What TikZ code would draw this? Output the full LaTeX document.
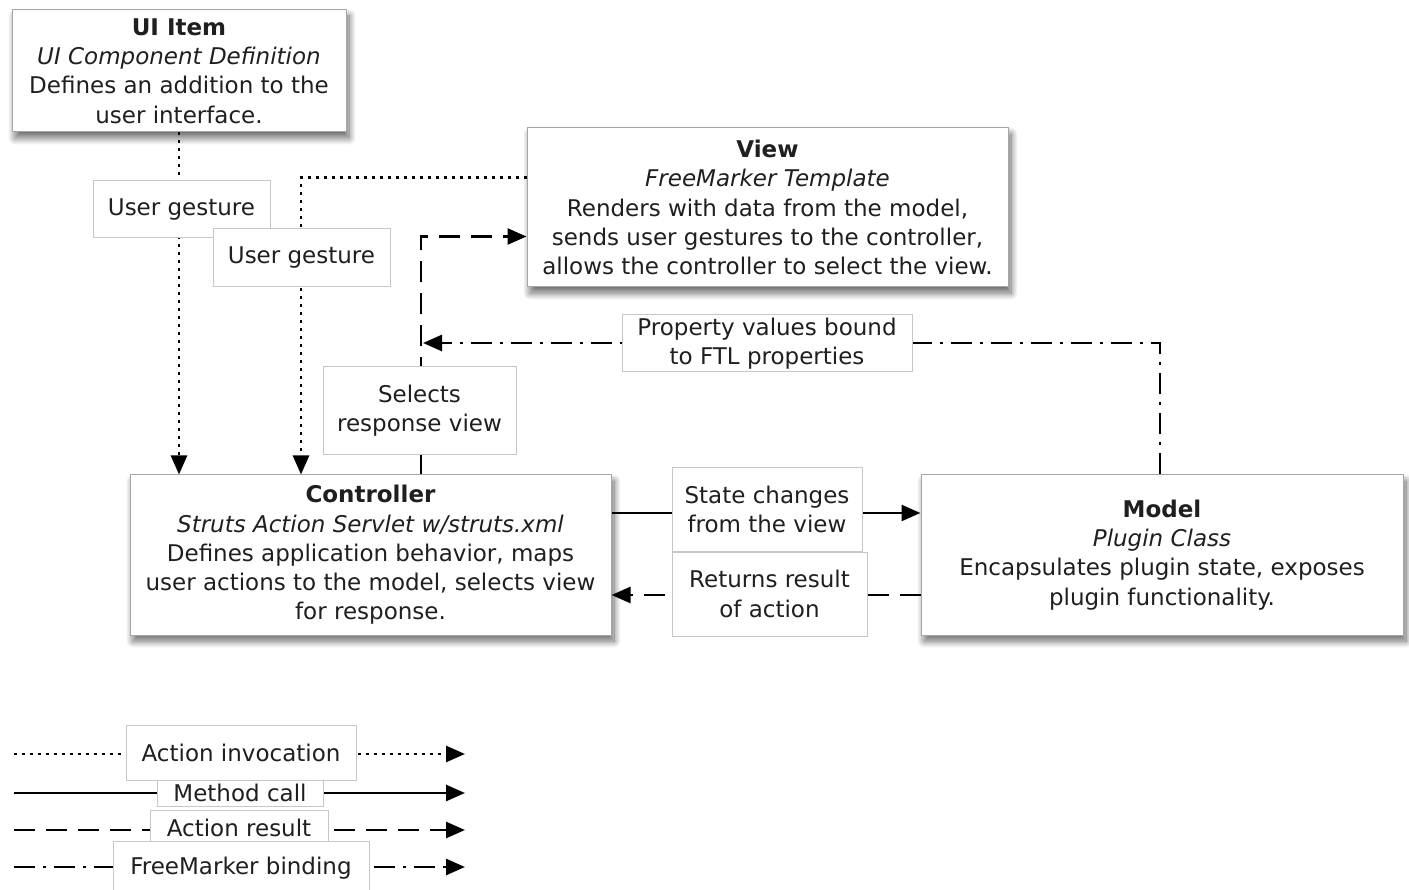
\documentclass[tikz,border=0pt]{standalone}
\usepackage{fontspec}
\setmainfont{DejaVu Sans}
\usetikzlibrary{arrows.meta,shadows.blur}
\begin{document}
\begin{tikzpicture}[x=1pt,y=-1pt,
  every node/.style={font=\fontsize{23}{29.3}\selectfont, text=black!88},
  mainbox/.style={draw=black!35, line width=1pt, fill=white, align=center, inner sep=0pt,
    blur shadow={shadow xshift=3pt, shadow yshift=-6pt, shadow blur radius=7pt, shadow blur steps=14, shadow opacity=60}},
  lbl/.style={draw=black!22, line width=1pt, fill=white, align=center, inner sep=0pt},
  conn/.style={line width=2.6pt, black},
  tip/.style={-{Triangle[length=19pt,width=16pt]}},
  act/.style={conn, dash pattern=on 3pt off 5pt},
  meth/.style={conn},
  res/.style={conn, dash pattern=on 21pt off 11pt},
  bind/.style={conn, dash pattern=on 21pt off 8pt on 3pt off 8pt},
]
\useasboundingbox (0,0) rectangle (1409,890);

% main boxes
\node[mainbox, minimum width=334pt, minimum height=122pt] (ui) at (179,71)
  {\textbf{UI Item}\\\textit{UI Component Definition}\\Defines an addition to the\\user interface.};
\node[mainbox, minimum width=481pt, minimum height=159pt] (view) at (767.5,207.5)
  {\textbf{View}\\\textit{FreeMarker Template}\\Renders with data from the model,\\sends user gestures to the controller,\\allows the controller to select the view.};
\node[mainbox, minimum width=481pt, minimum height=160pt] (ctrl) at (370.5,555)
  {\textbf{Controller}\\\textit{Struts Action Servlet w/struts.xml}\\Defines application behavior, maps\\user actions to the model, selects view\\for response.};
\node[mainbox, minimum width=482pt, minimum height=160pt] (model) at (1162,555)
  {\textbf{Model}\\\textit{Plugin Class}\\Encapsulates plugin state, exposes\\plugin functionality.};

% connectors
\coordinate (bindend) at (423,343);
\draw[act,tip] (ui.south) -- (ui.south |- ctrl.north);
\draw[act,tip] ([yshift=30pt]view.west) -| ([xshift=-69.5pt]ctrl.north);
\draw[res,tip] ([xshift=50.5pt]ctrl.north) |- ([yshift=-29pt]view.west);
\draw[bind,tip] ([xshift=-2pt]model.north) |- (bindend);
\draw[meth,tip] ([yshift=42pt]ctrl.east) -- ([yshift=42pt]model.west);
\draw[res,tip] ([yshift=-40pt]model.west) -- ([yshift=-40pt]ctrl.east);

% connector labels
\node[lbl, minimum width=177pt, minimum height=57pt] (ug1) at (181.5,209.5) {User gesture};
\node[lbl, minimum width=177pt, minimum height=58pt] (ug2) at (301.5,258) {User gesture};
\node[lbl, minimum width=193pt, minimum height=88pt] (sel) at (419.5,411) {Selects\\response view};
\node[lbl, minimum width=290pt, minimum height=57pt] (prop) at (767,343.5) {Property values bound\\to FTL properties};
\node[lbl, minimum width=190pt, minimum height=83pt] (state) at (767,509.5) {State changes\\from the view};
\node[lbl, minimum width=195pt, minimum height=84pt] (ret) at (769.5,594) {Returns result\\of action};

% legend
\coordinate (l1a) at (14,754); \coordinate (l1b) at (465,754);
\coordinate (l2a) at (14,793); \coordinate (l2b) at (465,793);
\coordinate (l3a) at (14,830); \coordinate (l3b) at (465,830);
\coordinate (l4a) at (14,867); \coordinate (l4b) at (465,867);
\draw[act,tip] (l1a) -- (l1b);
\draw[meth,tip] (l2a) -- (l2b);
\draw[res,tip] (l3a) -- (l3b);
\draw[bind,tip] (l4a) -- (l4b);
\node[lbl, minimum width=230pt, minimum height=55pt] (lg1) at (241,752.5) {Action invocation};
\node[lbl, minimum width=166pt, minimum height=26pt] (lg2) at (240,793) {Method call};
\node[lbl, minimum width=178pt, minimum height=35pt] (lg3) at (239,828) {Action result};
\node[lbl, minimum width=256pt, minimum height=54pt] (lg4) at (241,868) {FreeMarker binding};
\end{tikzpicture}
\end{document}
